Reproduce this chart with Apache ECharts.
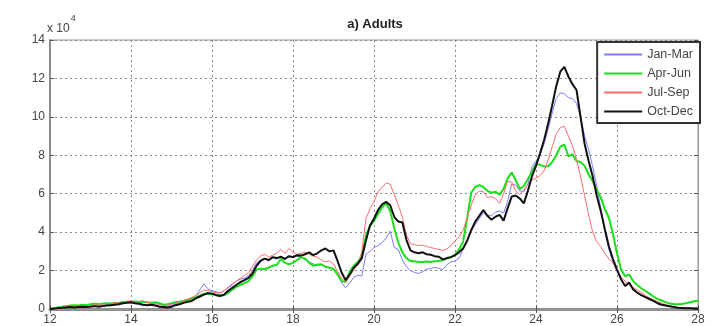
<!DOCTYPE html>
<html>
<head>
<meta charset="utf-8">
<script src="https://cdn.jsdelivr.net/npm/echarts@6/dist/echarts.min.js"></script>
<style>
  html, body { margin: 0; padding: 0; background: #fff; }
  #chart { width: 712px; height: 326px; }
</style>
</head>
<body>
<div id="chart"></div>
<script>
// Length classes (cm), sampled every 0.1 from 12 to 28
const lengths = Array.from({ length: 161 }, (_, i) => +(12 + i * 0.1).toFixed(1));

const seriesNames = ['Jan-Mar', 'Apr-Jun', 'Jul-Sep', 'Oct-Dec'];

// Counts of adults per length class, in units of 10^4
const janMar = [
  0.00, 0.03, 0.05, 0.08, 0.10, 0.12, 0.10, 0.12, 0.15, 0.12,
  0.15, 0.18, 0.15, 0.18, 0.20, 0.22, 0.25, 0.28, 0.30, 0.32,
  0.32, 0.28, 0.22, 0.18, 0.25, 0.22, 0.20, 0.15, 0.12, 0.15,
  0.20, 0.25, 0.32, 0.38, 0.45, 0.55, 0.70, 1.00, 1.30, 1.05,
  0.95, 0.90, 0.85, 0.95, 1.10, 1.25, 1.45, 1.55, 1.60, 1.75,
  2.00, 2.40, 2.55, 2.60, 2.50, 2.65, 2.60, 2.70, 2.65, 2.72,
  2.68, 2.75, 2.70, 2.55, 2.45, 2.35, 2.25, 2.30, 2.20, 2.15,
  2.10, 1.85, 1.35, 1.10, 1.35, 1.65, 1.75, 1.72, 2.85, 3.00,
  3.20, 3.30, 3.45, 3.70, 4.05, 3.20, 3.10, 2.55, 2.20, 2.00,
  1.90, 1.85, 1.95, 2.07, 2.10, 2.17, 2.12, 2.05, 2.30, 2.45,
  2.50, 2.65, 3.10, 3.60, 4.05, 4.40, 4.70, 5.00, 4.90, 4.85,
  5.05, 5.10, 5.00, 5.60, 6.50, 6.45, 6.15, 6.10, 6.50, 7.40,
  7.70, 8.00, 8.60, 9.35, 10.20, 10.95, 11.25, 11.20, 11.00, 10.95,
  10.70, 10.00, 9.00, 8.30, 7.40, 6.40, 5.20, 4.00, 3.10, 2.45,
  1.95, 1.55, 1.20, 1.30, 1.00, 0.85, 0.72, 0.62, 0.50, 0.40,
  0.30, 0.22, 0.17, 0.13, 0.10, 0.07, 0.05, 0.05, 0.04, 0.04,
  0.03
];

const aprJun = [
  0.00, 0.04, 0.08, 0.12, 0.15, 0.18, 0.20, 0.18, 0.22, 0.20,
  0.25, 0.28, 0.25, 0.28, 0.30, 0.28, 0.32, 0.30, 0.35, 0.38,
  0.35, 0.40, 0.36, 0.38, 0.35, 0.32, 0.35, 0.30, 0.22, 0.25,
  0.30, 0.35, 0.38, 0.42, 0.48, 0.52, 0.60, 0.70, 0.80, 0.82,
  0.78, 0.75, 0.70, 0.72, 0.85, 1.00, 1.15, 1.25, 1.35, 1.45,
  1.70, 2.05, 2.10, 2.08, 2.15, 2.25, 2.30, 2.60, 2.40, 2.33,
  2.40, 2.55, 2.70, 2.62, 2.40, 2.25, 2.30, 2.33, 2.20, 2.15,
  2.08, 1.80, 1.45, 1.40, 1.95, 2.25, 2.45, 2.75, 3.80, 4.30,
  4.60, 4.95, 5.30, 5.50, 5.10, 4.20, 3.45, 2.95, 2.65, 2.50,
  2.48, 2.45, 2.45, 2.47, 2.45, 2.48, 2.50, 2.55, 2.62, 2.70,
  2.82, 3.10, 3.50, 4.70, 6.05, 6.35, 6.45, 6.35, 6.15, 6.05,
  6.10, 5.95, 6.25, 6.80, 7.10, 6.70, 6.25, 6.40, 6.75, 7.15,
  7.55, 7.50, 7.42, 7.43, 7.65, 8.00, 8.45, 8.55, 7.95, 8.05,
  7.70, 7.65, 7.45, 7.00, 6.65, 6.20, 5.80, 5.20, 4.75, 3.90,
  2.90, 2.05, 1.70, 1.80, 1.45, 1.25, 1.08, 0.95, 0.80, 0.65,
  0.52, 0.44, 0.36, 0.28, 0.26, 0.25, 0.26, 0.30, 0.35, 0.40,
  0.43
];

const julSep = [
  0.00, 0.03, 0.06, 0.08, 0.12, 0.15, 0.12, 0.15, 0.18, 0.15,
  0.18, 0.22, 0.20, 0.25, 0.28, 0.30, 0.32, 0.35, 0.38, 0.40,
  0.42, 0.38, 0.40, 0.42, 0.35, 0.30, 0.28, 0.22, 0.18, 0.20,
  0.25, 0.30, 0.38, 0.45, 0.52, 0.60, 0.70, 0.85, 1.00, 0.95,
  0.90, 0.85, 0.82, 0.95, 1.15, 1.30, 1.45, 1.60, 1.75, 1.90,
  2.20, 2.55, 2.75, 2.85, 2.70, 2.80, 2.90, 3.10, 2.90, 3.15,
  2.95, 2.85, 2.90, 2.95, 2.85, 2.75, 2.70, 2.55, 2.45, 2.50,
  2.35, 1.95, 1.60, 1.40, 1.70, 2.05, 2.30, 3.00, 4.70, 5.20,
  5.60, 6.10, 6.35, 6.55, 6.50, 5.95, 5.40, 4.80, 3.85, 3.40,
  3.35, 3.30, 3.32, 3.25, 3.20, 3.15, 3.10, 3.05, 3.12, 3.30,
  3.55, 3.75, 4.10, 4.75, 5.40, 5.95, 6.15, 6.10, 5.80, 5.85,
  5.75, 5.50, 6.00, 6.65, 6.60, 6.15, 5.95, 6.20, 6.50, 6.72,
  6.80, 6.95, 7.20, 7.75, 8.45, 9.10, 9.45, 9.50, 9.00, 8.50,
  7.80, 6.90, 5.90, 4.90, 4.00, 3.50, 3.25, 2.90, 2.60, 2.40,
  2.05, 1.65, 1.45, 1.25, 1.12, 0.98, 0.85, 0.70, 0.58, 0.48,
  0.38, 0.30, 0.22, 0.16, 0.12, 0.08, 0.06, 0.05, 0.05, 0.04,
  0.04
];

const octDec = [
  0.00, 0.02, 0.05, 0.06, 0.08, 0.10, 0.08, 0.10, 0.12, 0.10,
  0.12, 0.15, 0.12, 0.15, 0.18, 0.20, 0.22, 0.25, 0.30, 0.32,
  0.35, 0.30, 0.28, 0.22, 0.20, 0.22, 0.18, 0.12, 0.10, 0.08,
  0.12, 0.20, 0.25, 0.32, 0.38, 0.42, 0.55, 0.65, 0.75, 0.82,
  0.80, 0.72, 0.68, 0.75, 0.95, 1.10, 1.25, 1.40, 1.50, 1.62,
  1.85, 2.25, 2.50, 2.62, 2.55, 2.70, 2.65, 2.72, 2.60, 2.75,
  2.70, 2.80, 2.78, 2.85, 2.95, 2.80, 2.90, 3.05, 3.15, 3.00,
  3.05, 2.50, 1.90, 1.50, 1.80, 2.15, 2.35, 2.65, 3.55, 4.35,
  4.70, 5.15, 5.45, 5.58, 5.40, 4.80, 4.55, 4.50, 3.60, 3.05,
  2.95, 2.90, 2.95, 2.85, 2.82, 2.75, 2.72, 2.58, 2.65, 2.70,
  2.80, 2.95, 3.15, 3.55, 4.10, 4.55, 4.85, 5.15, 4.85, 4.65,
  4.80, 4.90, 4.60, 5.25, 5.85, 5.90, 5.75, 5.50, 6.15, 6.90,
  7.45, 8.10, 8.80, 9.65, 10.60, 11.60, 12.35, 12.60, 12.10, 11.70,
  11.40, 10.00, 8.60, 7.70, 6.90, 5.90, 5.10, 4.15, 3.25, 2.60,
  2.05, 1.55, 1.20, 1.38, 1.02, 0.85, 0.72, 0.62, 0.52, 0.42,
  0.30, 0.22, 0.18, 0.14, 0.10, 0.06, 0.05, 0.04, 0.04, 0.03,
  0.03
];

const seriesValues = [janMar, aprJun, julSep, octDec];
const lineColors = ['#7c7cff', '#19e019', '#ff6b6b', '#111111'];
const lineWidths = [1, 2, 1, 2];

const chart = echarts.init(document.getElementById('chart'), null, { renderer: 'canvas' });

const fontFamily = 'Liberation Sans, Arial, sans-serif';
const gridLine = { show: true, lineStyle: { color: '#8a8a8a', type: [2, 3], width: 1 } };
const labelFont = { fontFamily: fontFamily, fontSize: 12, color: '#444' };

chart.setOption({
  animation: false,
  backgroundColor: '#ffffff',
  title: {
    text: 'a) Adults',
    left: 370,
    top: 13,
    textAlign: 'center',
    textStyle: { fontFamily: fontFamily, fontSize: 13, fontWeight: 'bold', color: '#222' }
  },
  graphic: [{
    type: 'text',
    left: 47,
    top: 14,
    style: {
      text: '{a|x 10}{b|4}',
      rich: {
        a: { fontFamily: fontFamily, fontSize: 12, fill: '#444', padding: [9, 1, 0, 0] },
        b: { fontFamily: fontFamily, fontSize: 9, fill: '#444', verticalAlign: 'top' }
      }
    }
  }],
  legend: {
    orient: 'vertical',
    right: 12,
    top: 42,
    data: seriesNames,
    itemWidth: 38,
    itemHeight: 10,
    itemGap: 6,
    itemStyle: { opacity: 0 },
    padding: [6, 7, 5, 6],
    borderColor: '#333',
    borderWidth: 2,
    backgroundColor: '#fff',
    textStyle: { fontFamily: fontFamily, fontSize: 12.5, color: '#444' }
  },
  grid: {
    left: 50, right: 14, top: 40, bottom: 16,
    show: true, borderColor: '#9a9a9a', borderWidth: 1
  },
  xAxis: [{
    type: 'value',
    min: 12, max: 28, interval: 2,
    axisLine: { show: true, onZero: false, lineStyle: { color: '#8c8c8c', width: 3 } },
    axisTick: { show: true, inside: true, length: 4, lineStyle: { color: '#555' } },
    axisLabel: Object.assign({ margin: 5 }, labelFont),
    splitLine: gridLine
  }, {
    type: 'value',
    position: 'top',
    min: 12, max: 28, interval: 2,
    axisLine: { show: true, lineStyle: { color: '#9a9a9a', width: 1 } },
    axisTick: { show: true, inside: true, length: 4, lineStyle: { color: '#555' } },
    axisLabel: { show: false },
    splitLine: { show: false }
  }],
  yAxis: [{
    type: 'value',
    min: 0, max: 14, interval: 2,
    axisLine: { show: true, lineStyle: { color: '#8c8c8c', width: 2 } },
    axisTick: { show: true, inside: true, length: 4, lineStyle: { color: '#555' } },
    axisLabel: Object.assign({ margin: 5 }, labelFont),
    splitLine: gridLine
  }, {
    type: 'value',
    position: 'right',
    min: 0, max: 14, interval: 2,
    axisLine: { show: true, lineStyle: { color: '#9a9a9a', width: 1 } },
    axisTick: { show: true, inside: true, length: 4, lineStyle: { color: '#555' } },
    axisLabel: { show: false },
    splitLine: { show: false }
  }],
  series: seriesNames.map((name, k) => ({
    name: name,
    type: 'line',
    xAxisIndex: 0,
    yAxisIndex: 0,
    symbol: 'none',
    data: lengths.map((x, i) => [x, seriesValues[k][i]]),
    itemStyle: { color: lineColors[k] },
    lineStyle: { color: lineColors[k], width: lineWidths[k] },
    z: 2 + k
  }))
});
</script>
</body>
</html>
